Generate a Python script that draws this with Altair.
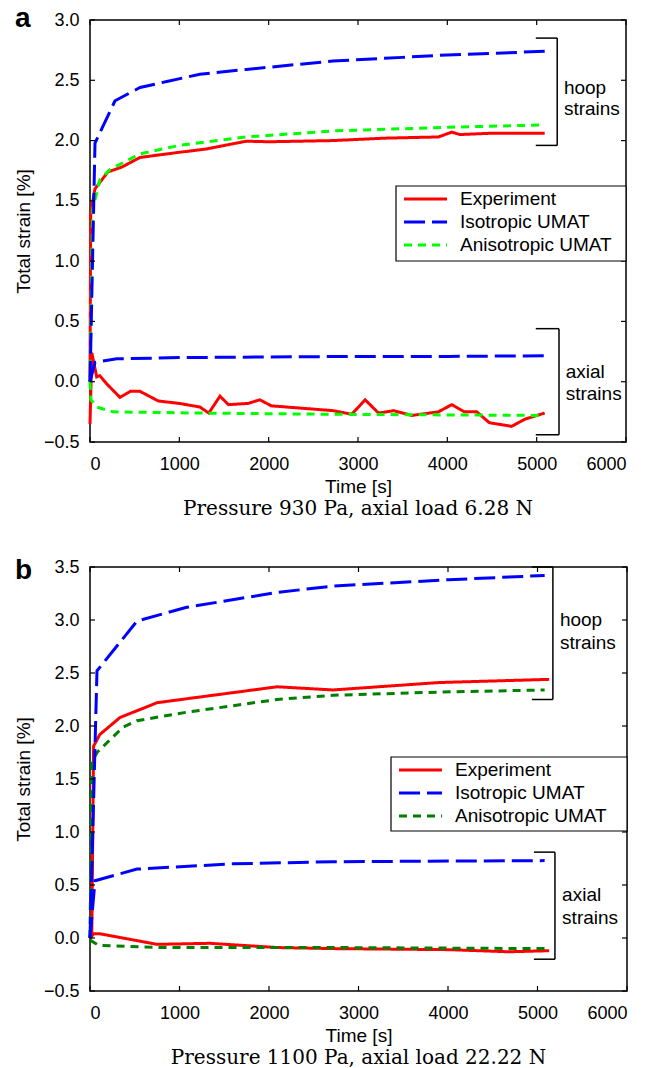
import altair as alt
import pandas as pd

MODELS = ["Experiment", "Isotropic UMAT", "Anisotropic UMAT"]
DASHES = [[1, 0], [21, 7], [8, 6]]
XTICKS = [0, 1000, 2000, 3000, 4000, 5000, 6000]

# ---------------- panel a ----------------
A_EXP_HOOP_T = [0, 8, 56, 200, 356, 560, 970, 1300, 1750, 2000, 2720, 3300, 3900, 4050, 4140, 4470, 4730, 5090]
A_EXP_HOOP_V = [0.0, 1.40, 1.60, 1.74, 1.78, 1.86, 1.90, 1.93, 1.995, 1.99, 2.0, 2.02, 2.03, 2.07, 2.05, 2.06, 2.06, 2.06]
A_EXP_AX_T = [0, 20, 75, 110, 190, 336, 450, 560, 765, 1000, 1230, 1330, 1455, 1550, 1770, 1900, 2030, 2720,
              2930, 3080, 3230, 3400, 3600, 3900, 4050, 4190, 4330, 4470, 4720, 4870, 5090]
A_EXP_AX_V = [-0.35, 0.24, 0.04, 0.05, -0.02, -0.13, -0.08, -0.08, -0.16, -0.18, -0.21, -0.26, -0.12, -0.19, -0.18,
              -0.15, -0.20, -0.24, -0.27, -0.15, -0.26, -0.24, -0.28, -0.25, -0.19, -0.25, -0.25, -0.34, -0.37, -0.31, -0.26]
A_ISO_HOOP_T = [0, 56, 280, 560, 860, 1230, 1750, 2720, 3500, 4000, 5090]
A_ISO_HOOP_V = [0.0, 1.98, 2.33, 2.44, 2.49, 2.55, 2.59, 2.66, 2.69, 2.71, 2.74]
A_ISO_AX_T = [0, 56, 300, 1000, 2000, 3000, 4000, 5090]
A_ISO_AX_V = [0.0, 0.16, 0.19, 0.20, 0.205, 0.21, 0.21, 0.215]
A_ANI_HOOP_T = [0, 30, 112, 224, 560, 1000, 1750, 2720, 4000, 5090]
A_ANI_HOOP_V = [0.0, 1.43, 1.68, 1.76, 1.89, 1.96, 2.03, 2.08, 2.11, 2.13]
A_ANI_AX_T = [0, 10, 75, 260, 1230, 2720, 5090]
A_ANI_AX_V = [0.0, -0.15, -0.21, -0.25, -0.26, -0.27, -0.28]

# ---------------- panel b ----------------
B_EXP_HOOP_T = [0, 20, 40, 110, 335, 750, 2090, 2715, 3900, 5130]
B_EXP_HOOP_V = [0.0, 0.02, 1.81, 1.92, 2.08, 2.22, 2.37, 2.34, 2.41, 2.44]
B_EXP_AX_T = [0, 20, 40, 110, 750, 1340, 2090, 2715, 4010, 4680, 5130]
B_EXP_AX_V = [0.0, 0.02, 0.04, 0.04, -0.06, -0.05, -0.09, -0.10, -0.11, -0.13, -0.12]
B_ISO_HOOP_T = [0, 78, 525, 1080, 2090, 2715, 4010, 5080]
B_ISO_HOOP_V = [0.0, 2.52, 2.99, 3.12, 3.26, 3.32, 3.38, 3.42]
B_ISO_AX_T = [0, 56, 525, 1600, 2715, 5080]
B_ISO_AX_V = [0.0, 0.54, 0.65, 0.70, 0.72, 0.73]
B_ANI_HOOP_T = [0, 20, 78, 370, 525, 1080, 2090, 2715, 3900, 5080]
B_ANI_HOOP_V = [0.0, 1.66, 1.75, 1.99, 2.05, 2.13, 2.25, 2.29, 2.32, 2.34]
B_ANI_AX_T = [0, 100, 750, 2715, 5080]
B_ANI_AX_V = [-0.02, -0.07, -0.09, -0.09, -0.10]

# bracket annotations: [x_start, x_end, y_low, y_high]
A_BRACKETS = [[4990, 5230, 1.96, 2.85], [4990, 5250, -0.44, 0.44]]
A_BTEXT_T = [5305, 5305, 5325, 5325]
A_BTEXT_V = [2.44, 2.26, 0.08, -0.10]
B_BRACKETS = [[4937, 5172, 2.25, 3.5], [4960, 5195, -0.20, 0.81]]
B_BTEXT_T = [5250, 5250, 5275, 5275]
B_BTEXT_V = [3.00, 2.78, 0.41, 0.19]
BTEXT = ["hoop", "strains", "axial", "strains"]

FONT = "Liberation Sans"
SERIF = "DejaVu Serif"


def long_df(series):
    rows = []
    for model, kind, ts, vs in series:
        for t, v in zip(ts, vs):
            rows.append({"t": t, "v": v, "model": model, "kind": kind})
    return pd.DataFrame(rows)


def panel(series, colors, ymax, W, H, brackets, btt, btv, legend_box, legend_rows, sample_x, text_x,
          tag, tag_y, caption):
    df = long_df(series)
    yticks = [round(-0.5 + 0.5 * i, 1) for i in range(int((ymax + 0.5) / 0.5) + 1)]
    xs = alt.Scale(domain=[0, 6000], nice=False, zero=False)
    ys = alt.Scale(domain=[-0.5, ymax], nice=False, zero=False)

    lines = alt.Chart(df).mark_line(strokeWidth=3).encode(
        x=alt.X("t:Q", scale=xs, axis=alt.Axis(values=XTICKS, format="d", title="Time [s]",
                                                  labelPadding=13, titlePadding=4)),
        y=alt.Y("v:Q", scale=ys, axis=alt.Axis(values=yticks, format=".1f", title="Total strain [%]",
                                                  labelPadding=11, titlePadding=10)),
        color=alt.Color("model:N", scale=alt.Scale(domain=MODELS, range=colors), legend=None),
        strokeDash=alt.StrokeDash("model:N", scale=alt.Scale(domain=MODELS, range=DASHES), legend=None),
        detail="kind:N",
    )

    ydf = pd.DataFrame({"v": yticks})
    xdf = pd.DataFrame({"t": XTICKS})
    tl = alt.Chart(ydf).mark_rule(color="black", strokeWidth=1.2).encode(
        y="v:Q", x=alt.value(0), x2=alt.value(5))
    tr = alt.Chart(ydf).mark_rule(color="black", strokeWidth=1.2).encode(
        y="v:Q", x=alt.value(W - 5), x2=alt.value(W))
    tb = alt.Chart(xdf).mark_rule(color="black", strokeWidth=1.2).encode(
        x="t:Q", y=alt.value(H - 5), y2=alt.value(H))
    tt = alt.Chart(xdf).mark_rule(color="black", strokeWidth=1.2).encode(
        x="t:Q", y=alt.value(0), y2=alt.value(5))

    vdf = pd.DataFrame({"t": [b[1] for b in brackets], "v": [b[2] for b in brackets],
                        "v2": [b[3] for b in brackets]})
    hdf = pd.DataFrame({"t": [b[0] for b in brackets] * 2, "t2": [b[1] for b in brackets] * 2,
                        "v": [b[2] for b in brackets] + [b[3] for b in brackets]})
    bv = alt.Chart(vdf).mark_rule(color="black", strokeWidth=1.5).encode(x="t:Q", y="v:Q", y2="v2")
    bh = alt.Chart(hdf).mark_rule(color="black", strokeWidth=1.5).encode(x="t:Q", x2="t2", y="v:Q")
    tdf = pd.DataFrame({"t": btt, "v": btv, "label": BTEXT})
    bt = alt.Chart(tdf).mark_text(align="left", baseline="middle", font=FONT, fontSize=19,
                                  color="black").encode(x="t:Q", y="v:Q", text="label:N")

    one = pd.DataFrame({"k": [0]})
    lx0, lx1, ly0, ly1 = legend_box
    box = alt.Chart(one).mark_rect(fill="white", stroke="black", strokeWidth=1.2).encode(
        x=alt.value(lx0), x2=alt.value(lx1), y=alt.value(ly0), y2=alt.value(ly1))
    leg = [box]
    for i, m in enumerate(MODELS):
        leg.append(alt.Chart(one).mark_rule(color=colors[i], strokeDash=DASHES[i], strokeWidth=3).encode(
            x=alt.value(sample_x[0]), x2=alt.value(sample_x[1]), y=alt.value(legend_rows[i])))
        leg.append(alt.Chart(one).mark_text(align="left", baseline="middle", font=FONT, fontSize=19,
                                            color="black").encode(
            x=alt.value(text_x), y=alt.value(legend_rows[i]), text=alt.value(m)))

    tagm = alt.Chart(one).mark_text(align="left", baseline="alphabetic", font=FONT, fontSize=28,
                                    fontWeight="bold", color="black").encode(
        x=alt.value(-75), y=alt.value(tag_y), text=alt.value(tag))

    return alt.layer(lines, tl, tr, tb, tt, bv, bh, bt, *leg, tagm).properties(
        width=W, height=H,
        title=alt.TitleParams(caption, orient="bottom", anchor="middle", font=SERIF, fontSize=20,
                              fontWeight="normal", offset=3, color="black"))


pa = panel(
    [("Experiment", "hoop", A_EXP_HOOP_T, A_EXP_HOOP_V), ("Experiment", "axial", A_EXP_AX_T, A_EXP_AX_V),
     ("Anisotropic UMAT", "hoop", A_ANI_HOOP_T, A_ANI_HOOP_V), ("Anisotropic UMAT", "axial", A_ANI_AX_T, A_ANI_AX_V),
     ("Isotropic UMAT", "hoop", A_ISO_HOOP_T, A_ISO_HOOP_V), ("Isotropic UMAT", "axial", A_ISO_AX_T, A_ISO_AX_V)],
    ["#ff0000", "#0000ff", "#00ff00"], 3.0, 536, 422, A_BRACKETS, A_BTEXT_T, A_BTEXT_V,
    [306, 536, 166, 241], [179, 202, 225], [314, 357], 370, "a", 7,
    "Pressure 930 Pa, axial load 6.28 N")

pb = panel(
    [("Experiment", "hoop", B_EXP_HOOP_T, B_EXP_HOOP_V), ("Experiment", "axial", B_EXP_AX_T, B_EXP_AX_V),
     ("Anisotropic UMAT", "hoop", B_ANI_HOOP_T, B_ANI_HOOP_V), ("Anisotropic UMAT", "axial", B_ANI_AX_T, B_ANI_AX_V),
     ("Isotropic UMAT", "hoop", B_ISO_HOOP_T, B_ISO_HOOP_V), ("Isotropic UMAT", "axial", B_ISO_AX_T, B_ISO_AX_V)],
    ["#ff0000", "#0000ff", "#008000"], 3.5, 537, 424, B_BRACKETS, B_BTEXT_T, B_BTEXT_V,
    [301, 537, 190, 264], [203, 226, 249], [309, 352], 365, "b", 12,
    "Pressure 1100 Pa, axial load 22.22 N")

chart = alt.vconcat(pa, pb, spacing=36).resolve_scale(
    color="independent", strokeDash="independent", x="independent", y="independent"
).configure_view(stroke="black", strokeWidth=1.5).configure_axis(
    grid=False, domain=False, ticks=False, labelFont=FONT, labelFontSize=18, labelColor="black",
    titleFont=FONT, titleFontSize=19, titleFontWeight="normal", titleColor="black"
).properties(padding={"top": -4, "left": 5, "right": 5, "bottom": 0}, background="white")

chart.save("out.html", embed_options={"renderer": "svg", "actions": False})
